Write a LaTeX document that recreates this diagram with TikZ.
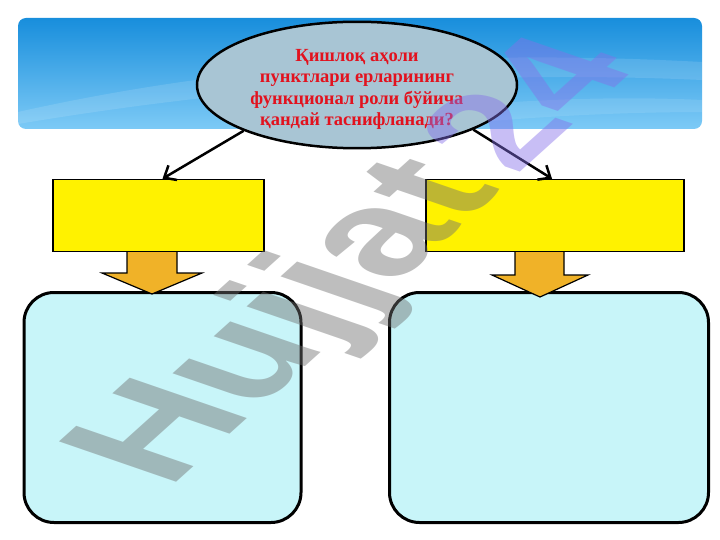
\documentclass[tikz,border=0pt]{standalone}
\usepackage{fontspec}
\setmainfont{Liberation Serif}
\setsansfont{Liberation Sans}
\usepackage{tikz}
\usetikzlibrary{shapes,arrows.meta,calc}

\definecolor{bannertop}{RGB}{24,142,220}
\definecolor{bannerbottom}{RGB}{125,202,246}
\definecolor{qfill}{RGB}{168,197,212}
\definecolor{qred}{RGB}{226,18,30}
\definecolor{boxcyan}{RGB}{200,245,249}
\definecolor{arrowgold}{RGB}{240,178,40}
\definecolor{wmgray}{RGB}{111,111,111}
\definecolor{wmpurple}{RGB}{133,111,233}

\begin{document}
\begin{tikzpicture}[x=1pt,y=-1pt]
      \tikzstyle{question}=[ellipse,draw,line width=2.5pt,fill=qfill,minimum width=320pt,minimum height=124pt,inner sep=0pt,align=center,text=qred,font=\bfseries\fontsize{18.5}{21.5}\selectfont]
      \tikzstyle{title}=[rectangle,draw,line width=1.5pt,fill=yellow,inner sep=0pt,minimum height=72pt]
      \tikzstyle{content}=[rectangle,draw,line width=3pt,rounded corners=30pt,fill=boxcyan,inner sep=0pt,minimum height=230pt]
      \tikzstyle{down}=[draw,line width=1.2pt,fill=arrowgold,line join=miter]
      \tikzstyle{link}=[line width=2.5pt,-{Straight Barb[length=10pt,width=17pt]}]
      \tikzstyle{watermark}=[inner sep=0pt,anchor=base west,text opacity=.45,font=\sffamily\bfseries\fontsize{180}{180}\selectfont,cm={.743*.9,.669*.9,-.946,.326,(0,0)}]
      \useasboundingbox (0,0) rectangle (720,540);
      % banner
      \shade[top color=bannertop,bottom color=bannerbottom,rounded corners=8pt] (18,18) rectangle (702,129);
      \fill[white,opacity=.12] (18,112) .. controls (250,60) and (480,50) .. (702,62) -- (702,80) .. controls (480,70) and (250,85) .. (18,124) -- cycle;
      \fill[white,opacity=.1] (300,129) .. controls (450,100) and (600,95) .. (702,100) -- (702,112) .. controls (600,112) and (480,120) .. (420,129) -- cycle;
      \node[question] (q) at (357,85) {\rule{0pt}{21pt}Қишлоқ аҳоли\\пунктлари ерларининг\\функционал роли бўйича\\қандай таснифланади?};
      \node[content,minimum width=277pt] (b1) at (162.5,407.5) {};
      \node[content,minimum width=319pt] (b2) at (549,407.5) {};
      \draw[down] (127,250) -- (127,273) -- (102,273) -- (152,294) -- (202,273) -- (177,273) -- (177,250) -- cycle;
      \draw[down] (515,250) -- (515,275) -- (492,275) -- (540,297) -- (588,275) -- (564,275) -- (564,250) -- cycle;
      \node[title,minimum width=211pt] (t1) at (158.5,215.5) {};
      \node[title,minimum width=258pt] (t2) at (555,215.5) {};
      \draw[link] (q.202) -- ([xshift=4pt]t1.north);
      \draw[link] (q.339) -- ([xshift=-3pt]t2.north);
      \node[watermark] (wm) at (168,490) {\textcolor{wmgray}{Hujjat}\hspace{.12em}\textcolor{wmpurple}{\fontsize{165}{165}\selectfont 24}};
\end{tikzpicture}
\end{document}
